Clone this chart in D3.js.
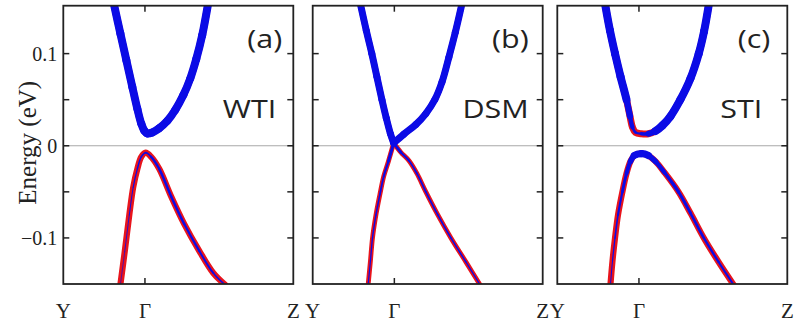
<!DOCTYPE html>
<html><head><meta charset="utf-8">
<script src="https://cdn.jsdelivr.net/npm/d3@7"></script>
<style>html,body{margin:0;padding:0;background:#fff;} svg{display:block;}</style>
</head><body>
<svg id="chart" width="795" height="326"></svg>
<script>
// ---- axis content ----
const kLabels = ["Y", "Γ", "Z"];
const kStops = [-0.355, 0, 0.645];          // Y, Γ, Z along the k path
const energyTicks = [-0.1, 0, 0.1];
const energyMinorTicks = [-0.1, -0.05, 0, 0.05, 0.1];
const energyRange = [-0.15, 0.152];
const panelTags = ["(a)", "(b)", "(c)"];
const phaseNames = ["WTI", "DSM", "STI"];

// ---- bands: k, energy (eV), blue-orbital weight ----
// (a) weak TI
const wtiCbK = [-0.1335,-0.107,-0.081,-0.055,-0.033,-0.016,-0.003,0.010,0.032,0.062,0.097,0.132,0.167,0.197,0.223,0.249,0.273];
const wtiCbE = [0.152,0.122,0.093,0.064,0.040,0.024,0.0165,0.0135,0.0145,0.019,0.027,0.039,0.055,0.073,0.094,0.120,0.152];
const wtiCbW = [1,1,1,1,1,1,1,1,1,1,1,1,1,1,1,1,1];
const wtiVbK = [-0.107,-0.088,-0.068,-0.051,-0.033,-0.016,0.003,0.027,0.062,0.114,0.171,0.236,0.297,0.349];
const wtiVbE = [-0.151,-0.115,-0.075,-0.045,-0.025,-0.012,-0.0075,-0.012,-0.025,-0.055,-0.085,-0.114,-0.138,-0.151];
const wtiVbW = [0.1,0.12,0.15,0.18,0.22,0.25,0.25,0.35,0.4,0.4,0.38,0.35,0.3,0.2];
// (b) Dirac semimetal (both bands touch at the Dirac point, index 7)
const dsmCbK = [-0.146,-0.122,-0.098,-0.076,-0.054,-0.035,-0.017,-0.003,0.041,0.093,0.137,0.176,0.207,0.237,0.265,0.292];
const dsmCbE = [0.152,0.125,0.100,0.075,0.050,0.030,0.013,0.003,0.0125,0.023,0.035,0.050,0.069,0.096,0.123,0.152];
const dsmCbW = [1,1,1,1,1,1,1,1,1,1,1,1,1,1,1,1];
const dsmVbK = [-0.114,-0.104,-0.095,-0.080,-0.063,-0.046,-0.026,-0.003,0.028,0.063,0.098,0.137,0.189,0.246,0.311,0.373];
const dsmVbE = [-0.151,-0.125,-0.100,-0.075,-0.053,-0.033,-0.017,0.003,-0.007,-0.016,-0.030,-0.050,-0.075,-0.100,-0.126,-0.151];
const dsmVbW = [0.25,0.25,0.3,0.3,0.35,0.4,0.5,0.7,0.5,0.4,0.4,0.38,0.35,0.35,0.3,0.25];
// (c) strong TI
const stiCbK = [-0.146,-0.126,-0.104,-0.080,-0.054,-0.039,-0.028,-0.015,0.011,0.041,0.072,0.102,0.137,0.180,0.224,0.260,0.283,0.303];
const stiCbE = [0.152,0.125,0.100,0.075,0.050,0.032,0.020,0.0145,0.013,0.013,0.016,0.022,0.032,0.050,0.073,0.100,0.124,0.152];
const stiCbW = [1,1,1,1,1,0.8,0.45,0.3,0.35,0.7,1,1,1,1,1,1,1,1];
const stiVbK = [-0.124,-0.115,-0.104,-0.091,-0.072,-0.054,-0.037,-0.020,0.011,0.041,0.072,0.111,0.172,0.224,0.282,0.346,0.412];
const stiVbE = [-0.151,-0.125,-0.100,-0.075,-0.050,-0.030,-0.017,-0.0105,-0.0085,-0.0105,-0.017,-0.029,-0.050,-0.073,-0.100,-0.126,-0.151];
const stiVbW = [0.15,0.18,0.22,0.3,0.4,0.55,0.8,1,1,1,0.8,0.6,0.5,0.45,0.4,0.35,0.3];

// ---- layout ----
const panelLeft = [63.3, 312.7, 557.3];
const panelW = 230, plotTop = 5.7, plotBottom = 284;
const tagInset = [11, 14, 17];
const nameInset = [17, 14, 25];
const RED = "#e8141c", BLUE = "#0b0be6", INK = "#222";
const serif = "'Liberation Serif','Times New Roman',serif";
const sans = "'Open Sans','Noto Sans',sans-serif";

const panels = [
  { bands: [
      { k: wtiVbK, e: wtiVbE, w: wtiVbW, width: 6.2 },
      { k: wtiCbK, e: wtiCbE, w: wtiCbW, width: 7 } ] },
  { bands: [
      { k: dsmVbK, e: dsmVbE, w: dsmVbW, width: 4.8, kink: 7 },
      { k: dsmCbK, e: dsmCbE, w: dsmCbW, width: 6, kink: 7 } ] },
  { bands: [
      { k: stiVbK, e: stiVbE, w: stiVbW, width: 6.2 },
      { k: stiCbK, e: stiCbE, w: stiCbW, width: 7 } ] }
];

const smooth = d3.curveCatmullRom.alpha(0.5);

// Split a smooth curve into its per-interval pieces so each
// interval can get its own core width.
function curvePieces(pts) {
  const pieces = [];
  let cx = 0, cy = 0;
  const ctx = {
    moveTo(x, y) { cx = x; cy = y; },
    lineTo(x, y) { pieces.push(`M${cx},${cy}L${x},${y}`); cx = x; cy = y; },
    bezierCurveTo(a, b, c, d, x, y) {
      pieces.push(`M${cx},${cy}C${a},${b},${c},${d},${x},${y}`); cx = x; cy = y;
    },
    closePath() {}
  };
  d3.line().curve(smooth).context(ctx)(pts);
  return pieces;
}

const svg = d3.select("#chart");
const y = d3.scaleLinear().domain(energyRange).range([plotBottom, plotTop]);

function sansText(g, tx, ty, size, str) {
  g.append("text")
    .attr("transform", `translate(${tx},${ty}) scale(1.22,1)`)
    .attr("text-anchor", "end").attr("font-family", sans).attr("font-size", size)
    .attr("fill", INK).text(str);
}

panels.forEach((p, i) => {
  const x0 = panelLeft[i], x1 = x0 + panelW;
  const x = d3.scaleLinear().domain([kStops[0], kStops[2]]).range([x0, x1]);
  const g = svg.append("g");

  const clipId = "clip" + i;
  g.append("clipPath").attr("id", clipId).append("rect")
    .attr("x", x0).attr("y", plotTop).attr("width", panelW).attr("height", plotBottom - plotTop);

  // Fermi level
  g.append("line").attr("x1", x0).attr("x2", x1)
    .attr("y1", y(0)).attr("y2", y(0))
    .attr("stroke", "#a8a8a8").attr("stroke-width", 1.2);

  const bandsG = g.append("g").attr("clip-path", `url(#${clipId})`);
  const line = d3.line().curve(smooth);
  p.bands.forEach(b => {
    const pts = b.k.map((kk, j) => [x(kk), y(b.e[j])]);
    // a band with a touching point is drawn as two branches meeting there
    const ranges = b.kink != null ? [[0, b.kink], [b.kink, pts.length - 1]] : [[0, pts.length - 1]];
    ranges.forEach(([s, t]) => {
      const seg = pts.slice(s, t + 1);
      // red orbital character as the band outline
      bandsG.append("path").attr("d", line(seg))
        .attr("fill", "none").attr("stroke", RED).attr("stroke-width", b.width)
        .attr("stroke-linecap", "round").attr("stroke-linejoin", "round");
    });
    ranges.forEach(([s, t]) => {
      const seg = pts.slice(s, t + 1);
      // blue orbital character: core width follows the weight
      curvePieces(seg).forEach((d, j) => {
        const wt = (b.w[s + j] + b.w[s + j + 1]) / 2;
        const sw = wt >= 0.99 ? b.width + 1 : b.width * wt;
        bandsG.append("path").attr("d", d)
          .attr("fill", "none").attr("stroke", BLUE).attr("stroke-width", sw)
          .attr("stroke-linecap", "round");
      });
    });
  });

  // ticks on all four sides, pointing inward
  const tl = 6;
  energyMinorTicks.forEach(t => {
    g.append("line").attr("x1", x0).attr("x2", x0 + tl).attr("y1", y(t)).attr("y2", y(t))
      .attr("stroke", INK).attr("stroke-width", 1.5);
    g.append("line").attr("x1", x1).attr("x2", x1 - tl).attr("y1", y(t)).attr("y2", y(t))
      .attr("stroke", INK).attr("stroke-width", 1.5);
  });
  g.append("line").attr("x1", x(0)).attr("x2", x(0)).attr("y1", plotTop).attr("y2", plotTop + tl)
    .attr("stroke", INK).attr("stroke-width", 1.5);
  g.append("line").attr("x1", x(0)).attr("x2", x(0)).attr("y1", plotBottom).attr("y2", plotBottom - tl)
    .attr("stroke", INK).attr("stroke-width", 1.5);

  // frame
  g.append("rect").attr("x", x0).attr("y", plotTop).attr("width", panelW)
    .attr("height", plotBottom - plotTop)
    .attr("fill", "none").attr("stroke", INK).attr("stroke-width", 1.8);

  // k-path labels
  kLabels.forEach((lab, j) => {
    g.append("text").attr("x", x(kStops[j])).attr("y", 318)
      .attr("text-anchor", "middle").attr("font-family", serif).attr("font-size", 21)
      .attr("fill", INK).text(lab);
  });

  // panel tag and phase name
  sansText(g, x1 - tagInset[i], 48, 25, panelTags[i]);
  sansText(g, x1 - nameInset[i], 118, 25, phaseNames[i]);
});

// energy axis labels on the first panel
const yAxis = d3.axisLeft(y).tickValues(energyTicks)
  .tickFormat(d => d === 0 ? "0" : d3.format(".1f")(d)).tickSize(0).tickPadding(6);
const ya = svg.append("g").attr("transform", `translate(${panelLeft[0]},0)`).call(yAxis);
ya.select(".domain").remove();
ya.selectAll("text").attr("font-family", serif).attr("font-size", 20).attr("fill", INK);

svg.append("text")
  .attr("transform", `translate(27,${y(0) - 3}) rotate(-90)`)
  .attr("text-anchor", "middle").attr("dominant-baseline", "central")
  .attr("font-family", serif).attr("font-size", 25).attr("fill", INK)
  .text("Energy (eV)");
</script>
</body></html>
